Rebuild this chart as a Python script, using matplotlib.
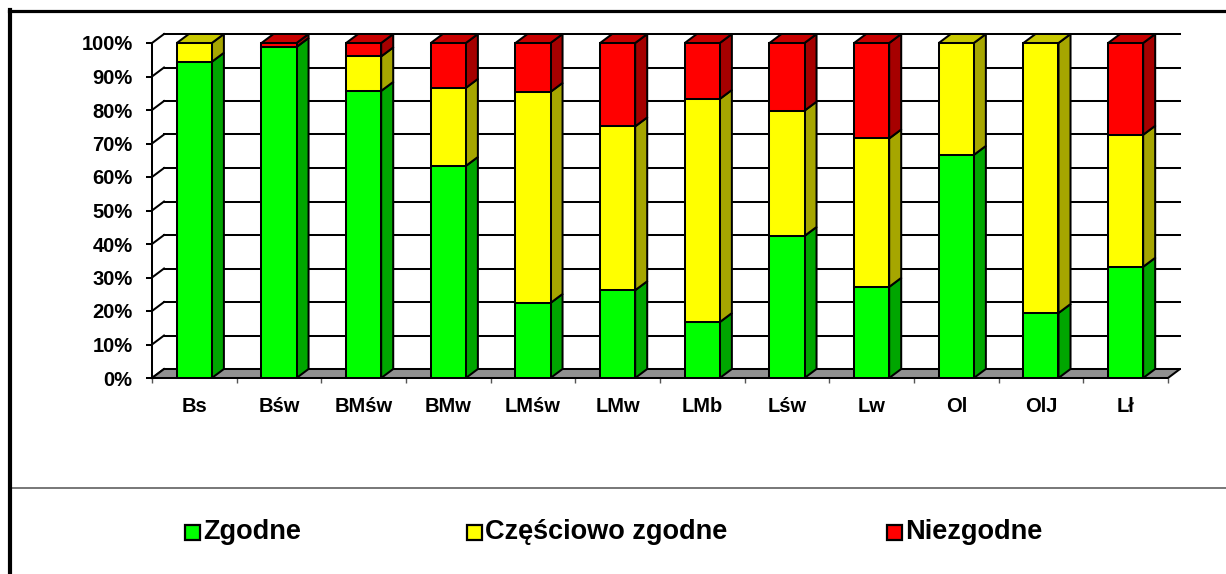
import matplotlib
matplotlib.use("Agg")
import matplotlib.pyplot as plt
from matplotlib.patches import Polygon, Rectangle
from matplotlib.lines import Line2D

plt.rcParams['font.family'] = ['Liberation Sans', 'DejaVu Sans']

categories = ['Bs', 'Bśw', 'BMśw', 'BMw', 'LMśw', 'LMw', 'LMb', 'Lśw', 'Lw', 'Ol', 'OlJ', 'Lł']
zgodne = [94.4, 98.8, 85.7, 63.3, 22.4, 26.2, 16.7, 42.4, 27.2, 66.6, 19.4, 33.2]
czesciowo = [5.6, 0.0, 10.3, 23.3, 63.0, 48.9, 66.6, 37.4, 44.3, 33.4, 80.6, 39.4]
niezgodne = [0.0, 1.2, 4.0, 13.4, 14.6, 24.9, 16.7, 20.2, 28.5, 0.0, 0.0, 27.4]
series_names = ['Zgodne', 'Częściowo zgodne', 'Niezgodne']
yticks = list(range(0, 101, 10))
ytick_labels = [f'{v}%' for v in yticks]

front_colors = ['#00ff00', '#ffff00', '#ff0000']
side_colors = ['#00a600', '#a6a600', '#a60000']
top_colors = ['#00c800', '#c8c800', '#c80000']

W, H = 1226, 574
fig = plt.figure(figsize=(W / 100, H / 100), dpi=100)

def fx(px):
    return px / W

def fy(py):
    return (H - py) / H

# geometry (pixels -> data)
cat_px = 84.4
dx = 12 / cat_px          # depth offset in category units
dy = 9 / 3.35             # depth offset in percent units
n = len(categories)
x_left, x_right = -0.5, n - 0.5
half_w = 0.207

ax = fig.add_axes([fx(152), fy(378), fx(1180) - fx(152), fy(34) - fy(378)])
ax.set_xlim(x_left, x_right + dx)
ax.set_ylim(0, 100 + dy)
ax.set_facecolor('none')
for s in ['top', 'right', 'bottom']:
    ax.spines[s].set_visible(False)
lw = 1.45
ax.spines['left'].set_bounds(0, 100)
ax.spines['left'].set_linewidth(lw)
ax.set_yticks(yticks)
ax.set_yticklabels(ytick_labels, fontsize=14.5, fontweight='bold')
ax.tick_params(axis='y', length=4, width=lw, pad=10)
ax.set_xticks(range(n))
ax.set_xticklabels(categories, fontsize=14.5, fontweight='bold')
ax.tick_params(axis='x', which='major', length=0, pad=14)
ax.set_xticks([x_left + k for k in range(n + 1)], minor=True)
ax.tick_params(axis='x', which='minor', length=3.5, width=1.0, color='#555555')

# back wall gridlines and left wall diagonals
for v in yticks:
    ax.add_line(Line2D([x_left + dx, x_right + dx], [v + dy, v + dy], color='black', lw=lw, clip_on=False, zorder=1))
    ax.add_line(Line2D([x_left, x_left + dx], [v, v + dy], color='black', lw=lw, clip_on=False, zorder=1))

# floor
ax.add_patch(Polygon([(x_left, 0), (x_right, 0), (x_right + dx, dy), (x_left + dx, dy)],
                     closed=True, facecolor='#909090', edgecolor='black', lw=lw, clip_on=False, zorder=2))

series = [zgodne, czesciowo, niezgodne]
for i in range(n):
    x0, x1 = i - half_w, i + half_w
    bottom = 0.0
    top_idx = max(k for k in range(3) if series[k][i] > 0)
    for k in range(3):
        h = series[k][i]
        if h <= 0:
            continue
        y0, y1 = bottom, bottom + h
        ax.add_patch(Polygon([(x1, y0), (x1 + dx, y0 + dy), (x1 + dx, y1 + dy), (x1, y1)], closed=True,
                             facecolor=side_colors[k], edgecolor='black', lw=lw, clip_on=False, zorder=3))
        ax.add_patch(Polygon([(x0, y0), (x1, y0), (x1, y1), (x0, y1)], closed=True,
                             facecolor=front_colors[k], edgecolor='black', lw=lw, clip_on=False, zorder=4))
        if k == top_idx:
            ax.add_patch(Polygon([(x0, y1), (x1, y1), (x1 + dx, y1 + dy), (x0 + dx, y1 + dy)], closed=True,
                                 facecolor=top_colors[k], edgecolor='black', lw=lw, clip_on=False, zorder=4))
        bottom = y1

# legend (manual)
leg_sq_x = [185, 467, 887]
leg_y = 532
for k, name in enumerate(series_names):
    sq = 15
    fig.add_artist(Rectangle((fx(leg_sq_x[k]), fy(leg_y + sq / 2)), sq / W, sq / H,
                             transform=fig.transFigure, facecolor=front_colors[k],
                             edgecolor='black', lw=1.6))
    fig.text(fx(leg_sq_x[k] + sq + 3), fy(leg_y), name, fontsize=19.5, fontweight='bold',
             ha='left', va='center')

# separator line and border
fig.add_artist(Line2D([fx(12), fx(W)], [fy(488), fy(488)], color='#606060', lw=1.2, transform=fig.transFigure))
fig.add_artist(Line2D([fx(10), fx(10)], [fy(10), fy(H)], color='black', lw=3, transform=fig.transFigure))
fig.add_artist(Line2D([fx(8.5), fx(W)], [fy(11), fy(11)], color='black', lw=2.3, transform=fig.transFigure))

fig.savefig('out.png', dpi=100, facecolor='white')
